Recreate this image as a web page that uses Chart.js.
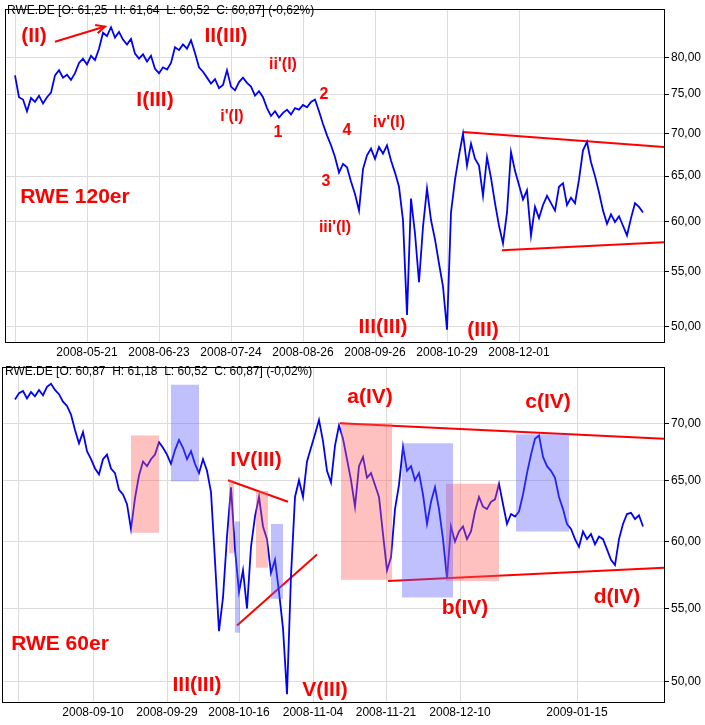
<!DOCTYPE html>
<html>
<head>
<meta charset="utf-8">
<script src="https://cdn.jsdelivr.net/npm/chart.js@4"></script>
<style>
body { margin: 0; background: #fff; }
canvas { display: block; }
</style>
</head>
<body>
<canvas id="top" width="705" height="358"></canvas>
<canvas id="bottom" width="705" height="367"></canvas>
<script>
'use strict';

// RWE 120min bars (one value every 4 px of the original)
var top120 = [77.5, 74.6, 74.3, 72.8, 74.5, 74.0, 74.8, 73.8, 74.6, 75.2,
	77.5, 78.2, 77.2, 77.6, 76.9, 77.8, 79.2, 79.8, 79.0, 80.2,
	79.6, 81.2, 83.5, 83.0, 84.3, 82.8, 83.6, 82.5, 81.8, 82.6,
	80.5, 79.8, 80.4, 79.4, 80.2, 78.4, 77.8, 78.6, 78.3, 79.2,
	81.4, 81.0, 81.8, 81.2, 82.4, 80.6, 78.6, 78.0, 77.2, 76.4,
	77.0, 75.8, 76.2, 78.2, 76.0, 75.5, 76.6, 77.2, 76.5, 76.0,
	74.8, 75.4, 74.6, 73.2, 72.2, 72.8, 72.0, 72.6, 73.0, 72.4,
	73.2, 73.0, 73.6, 73.3, 74.0, 74.3, 72.8, 71.2, 69.8, 68.6,
	67.2, 65.4, 66.4, 66.0, 64.4, 63.0, 61.2, 65.8, 67.4, 68.2,
	67.0, 68.4, 67.6, 68.6, 66.8, 65.4, 63.8, 60.2, 51.0, 62.5,
	58.8, 54.0, 59.5, 63.6, 60.2, 58.2, 55.8, 53.6, 49.7, 61.0,
	64.6, 67.4, 70.0, 66.2, 68.8, 67.0, 66.2, 62.8, 67.2, 64.8,
	62.0, 59.6, 57.8, 61.0, 67.8, 65.6, 64.0, 62.4, 63.4, 58.6,
	61.6, 60.4, 61.8, 62.8, 62.0, 61.2, 63.8, 64.2, 61.8, 62.6,
	62.0, 64.6, 68.0, 69.0, 66.6, 65.0, 63.2, 61.2, 59.8, 60.8,
	60.0, 60.6, 59.6, 58.6, 60.4, 62.0, 61.6, 61.0];

// RWE 60min bars
var bottom60 = [72.2, 72.8, 73.0, 72.3, 72.9, 72.5, 73.1, 72.6, 73.4, 73.7,
	73.1, 72.7, 72.0, 71.6, 70.8, 69.4, 68.2, 69.2, 67.5, 66.8,
	66.0, 65.5, 66.8, 67.2, 66.0, 65.6, 64.2, 63.8, 63.0, 61.0,
	63.5, 65.4, 66.6, 66.2, 66.8, 67.2, 68.3, 67.8, 67.2, 66.4,
	67.6, 68.5, 67.8, 66.8, 67.5, 66.4, 65.6, 66.8, 65.8, 64.0,
	58.5, 53.4, 55.8, 60.4, 64.4, 59.4, 56.2, 57.8, 55.0, 59.6,
	62.0, 63.6, 61.2, 60.2, 57.6, 58.6, 56.2, 53.6, 49.2, 57.4,
	63.6, 65.0, 63.6, 66.6, 67.8, 69.0, 70.3, 68.4, 65.8, 64.8,
	68.0, 69.8, 68.6, 66.8, 65.0, 62.8, 66.2, 67.0, 65.2, 65.6,
	64.6, 63.6, 60.6, 57.8, 58.8, 62.6, 64.6, 67.9, 65.8, 66.2,
	65.0, 65.6, 63.8, 61.4, 63.2, 64.4, 62.6, 60.2, 57.2, 61.2,
	60.0, 60.8, 61.2, 60.2, 60.8, 62.4, 63.6, 62.8, 62.6, 63.2,
	63.4, 64.7, 63.0, 61.4, 62.2, 62.0, 62.4, 63.8, 65.6, 67.2,
	68.6, 68.9, 67.0, 66.2, 65.8, 65.2, 63.6, 62.6, 61.4, 61.0,
	60.2, 59.6, 60.8, 60.2, 60.6, 59.8, 60.4, 60.2, 59.4, 58.6,
	58.2, 60.2, 61.4, 62.2, 62.3, 61.8, 62.1, 61.2];

var topTickPos = [0, 18, 36, 54, 72, 90, 108, 126];
var topTickLabels = ['', '2008-05-21', '2008-06-23', '2008-07-24', '2008-08-26', '2008-09-26', '2008-10-29', '2008-12-01'];
var bottomTickPos = [0.75, 19.5, 38, 56, 74.5, 92.75, 111.25, 140.5];
var bottomTickLabels = ['', '2008-09-10', '2008-09-29', '2008-10-16', '2008-11-04', '2008-11-21', '2008-12-10', '2009-01-15'];
var topPriceTicks = [50, 55, 60, 65, 70, 75, 80];
var bottomPriceTicks = [50, 55, 60, 65, 70];

// trend lines [x0, y0, x1, y1]
var topLines = [[112, 70.2, 162.25, 68.4], [121.75, 57.1, 162.25, 57.9]];
var topArrow = [10, 82.2, 22.5, 84.4];
var bottomLines = [[81.25, 70.0, 162.25, 68.6], [93.25, 57.0, 162.25, 58.0],
	[53.25, 65.0, 68.25, 63.2], [55.5, 53.8, 75.5, 59.0]];

// shaded boxes [x0, x1, high, low]
var pinkBoxes = [[29, 36, 68.9, 60.7], [53.5, 54.75, 65.0, 59.1], [60.25, 63.25, 64.1, 58.0],
	[81.5, 94.25, 70.0, 57.1], [107.75, 121, 64.7, 57.0]];
var blueBoxes = [[39, 46, 73.6, 64.9], [55, 56.25, 61.6, 53.3], [64, 67, 61.4, 55.7],
	[96.75, 109.5, 68.2, 55.8], [125.25, 138.5, 69.0, 60.8]];

var topTexts = [
	['RWE.DE [O: 61,25  H: 61,64  L: 60,52  C: 60,87] (-0,62%)', 7, 11, 12, '#000', 'left', ''],
	['(II)', 34, 36, 21, 'red'], ['I(III)', 155, 100, 21, 'red'], ['II(III)', 226, 36, 21, 'red'],
	["ii'(I)", 283, 65, 16, 'red'], ["i'(I)", 232, 117, 16, 'red'], ['1', 278, 133, 16, 'red'],
	['2', 324, 95, 16, 'red'], ['4', 347, 131, 16, 'red'], ["iv'(I)", 389, 123, 16, 'red'],
	['3', 326, 182, 16, 'red'], ["iii'(I)", 335, 228, 16, 'red'], ['RWE 120er', 75, 197, 21, 'red'],
	['III(III)', 383, 327, 21, 'red'], ['(III)', 483, 330, 21, 'red']
];
var bottomTexts = [
	['RWE.DE [O: 60,87  H: 61,18  L: 60,52  C: 60,87] (-0,02%)', 5, 14, 12, '#000', 'left', ''],
	['a(IV)', 370, 39, 21, 'red'], ['c(IV)', 548, 44, 21, 'red'], ['IV(III)', 256, 102, 21, 'red'],
	['b(IV)', 465, 250, 21, 'red'], ['d(IV)', 617, 239, 21, 'red'], ['RWE 60er', 60, 286, 21, 'red'],
	['III(III)', 197, 327, 21, 'red'], ['V(III)', 325, 332, 21, 'red']
];

function series(values) {
	return values.map(function (v, i) { return { x: i, y: v }; });
}

function lineSet(l) {
	return {
		data: [{ x: l[0], y: l[1] }, { x: l[2], y: l[3] }],
		borderColor: 'red', borderWidth: 2, pointRadius: 0
	};
}

var overlay = {
	id: 'overlay',
	afterDatasetsDraw: function (chart, args, opts) {
		var c = chart.ctx, xs = chart.scales.x, ys = chart.scales.y, a = chart.chartArea;
		c.save();
		c.beginPath();
		c.rect(a.left, a.top, a.right - a.left, a.bottom - a.top);
		c.clip();
		[[opts.pink, 'rgba(255,90,90,0.38)'], [opts.blue, 'rgba(90,90,255,0.38)']].forEach(function (g) {
			c.fillStyle = g[1];
			(g[0] || []).forEach(function (b) {
				var x0 = xs.getPixelForValue(b[0]), x1 = xs.getPixelForValue(b[1]);
				var y0 = ys.getPixelForValue(b[2]), y1 = ys.getPixelForValue(b[3]);
				c.fillRect(x0, y0, x1 - x0, y1 - y0);
			});
		});
		if (opts.arrow) {
			var ar = opts.arrow;
			var px = xs.getPixelForValue(ar[2]), py = ys.getPixelForValue(ar[3]);
			var ang = Math.atan2(py - ys.getPixelForValue(ar[1]), px - xs.getPixelForValue(ar[0]));
			c.strokeStyle = 'red';
			c.lineWidth = 2;
			c.beginPath();
			c.moveTo(px - 10 * Math.cos(ang - 0.45), py - 10 * Math.sin(ang - 0.45));
			c.lineTo(px, py);
			c.lineTo(px - 10 * Math.cos(ang + 0.45), py - 10 * Math.sin(ang + 0.45));
			c.stroke();
		}
		c.restore();
		c.save();
		c.strokeStyle = '#000';
		c.lineWidth = 1;
		c.strokeRect(Math.floor(a.left) + 0.5, Math.floor(a.top) + 0.5, Math.round(a.right - a.left), Math.round(a.bottom - a.top));
		c.textBaseline = 'middle';
		opts.texts.forEach(function (t) {
			c.font = (t[6] === undefined ? 'bold ' : '') + t[3] + 'px "Liberation Sans", Arial, sans-serif';
			c.fillStyle = t[4];
			c.textAlign = t[5] || 'center';
			c.fillText(t[0], t[1], t[2]);
		});
		c.restore();
	}
};

function makeChart(id, values, lines, cfg) {
	var datasets = [{ data: series(values), borderColor: '#0000ff', borderWidth: 1.8, pointRadius: 0 }];
	lines.forEach(function (l) { datasets.push(lineSet(l)); });
	if (cfg.arrow) datasets.push(lineSet(cfg.arrow));
	return new Chart(document.getElementById(id), {
		type: 'line',
		data: { datasets: datasets },
		plugins: [overlay],
		options: {
			responsive: false,
			animation: false,
			devicePixelRatio: 1,
			layout: { padding: { left: cfg.left, top: cfg.top, right: 0, bottom: 0 } },
			plugins: {
				legend: { display: false },
				tooltip: { enabled: false },
				overlay: { texts: cfg.texts, pink: cfg.pink, blue: cfg.blue, arrow: cfg.arrow }
			},
			scales: {
				x: {
					type: 'linear', min: cfg.xmin, max: 162.25,
					afterBuildTicks: function (s) { s.ticks = cfg.tickPos.map(function (v) { return { value: v }; }); },
					afterFit: function (s) { s.height = cfg.xh; },
					grid: { color: '#dcdcdc', drawTicks: false },
					border: { display: false },
					ticks: {
						autoSkip: false, maxRotation: 0, padding: 3, color: '#000',
						font: { family: '"Liberation Sans", Arial, sans-serif', size: 12 },
						callback: function (v) { return cfg.tickLabels[cfg.tickPos.indexOf(v)]; }
					}
				},
				y: {
					type: 'logarithmic', position: 'right', min: cfg.ymin, max: cfg.ymax,
					afterBuildTicks: function (s) { s.ticks = cfg.priceTicks.map(function (v) { return { value: v }; }); },
					afterFit: function (s) { s.width = 41; },
					grid: { color: '#dcdcdc', tickLength: 5, tickColor: '#000' },
					border: { display: false },
					ticks: {
						padding: 2, color: '#000',
						font: { family: '"Liberation Sans", Arial, sans-serif', size: 12 },
						callback: function (v) { return v.toFixed(2).replace('.', ','); }
					}
				}
			}
		}
	});
}

makeChart('top', top120, topLines, {
	left: 5, top: 2, xh: 16, xmin: -2.5, ymin: 48.65, ymax: 87.0, priceTicks: topPriceTicks,
	tickPos: topTickPos, tickLabels: topTickLabels, texts: topTexts, arrow: topArrow
});
makeChart('bottom', bottom60, bottomLines, {
	left: 2, top: 5, xh: 23, xmin: -3.25, ymin: 48.7, ymax: 75.3, priceTicks: bottomPriceTicks,
	tickPos: bottomTickPos, tickLabels: bottomTickLabels, texts: bottomTexts,
	pink: pinkBoxes, blue: blueBoxes
});
</script>
</body>
</html>
